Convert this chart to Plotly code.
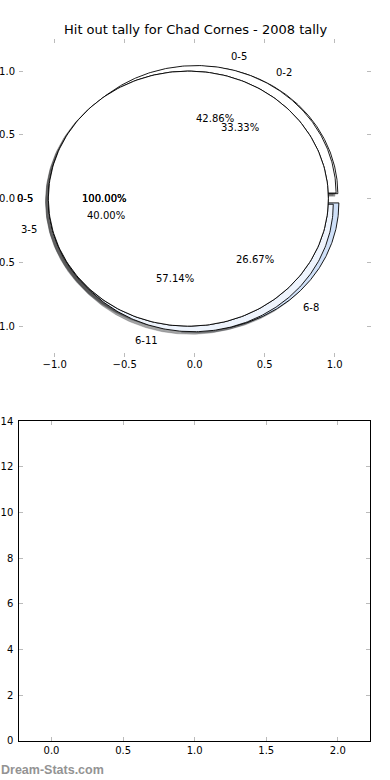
import numpy as np
import plotly.graph_objects as go

# ---------------- data ----------------
title_text = "Hit out tally for Chad Cornes - 2008 tally"
watermark = "Dream-Stats.com"

pieB_labels = ["0-2", "3-5", "6-8"]
pieB_values = [5, 6, 4]
pieA_labels = ["0-5", "6-11"]
pieA_values = [6, 8]
pieC_labels = ["0-5"]
pieC_values = [14]

pieB_colors = ["#ffffff", "#e9f1fc", "#cfe0f8"]
pieA_colors = ["#ffffff", "#eef4fd"]
pieC_colors = ["#ffffff"]

explode = 0.045

x_ticks_top = [-1.0, -0.5, 0.0, 0.5, 1.0]
y_ticks_top = [-1.0, -0.5, 0.0, 0.5, 1.0]
x_ticks_bottom = [0.0, 0.5, 1.0, 1.5, 2.0]
y_ticks_bottom = [0, 2, 4, 6, 8, 10, 12, 14]
bar_positions = [0, 1, 2]
bar_values = [0, 0, 0]

# draw order: B, A, C (C twice)
pies = [
    (pieB_labels, pieB_values, pieB_colors),
    (pieA_labels, pieA_values, pieA_colors),
    (pieC_labels, pieC_values, pieC_colors),
    (pieC_labels, pieC_values, pieC_colors),
]

W, H = 390, 780
FONT = "DejaVu Sans"


def wedge_geometry(values):
    total = float(sum(values))
    out = []
    t1 = 0.0
    for v in values:
        frac = v / total
        t2 = t1 + 360.0 * frac
        mid = np.deg2rad((t1 + t2) / 2.0)
        cx, cy = explode * np.cos(mid), explode * np.sin(mid)
        th = np.deg2rad(np.linspace(t1, t2, 240))
        ax_ = cx + np.cos(th)
        ay_ = cy + np.sin(th)
        if frac > 0.999999:
            xs, ys = list(ax_), list(ay_)
        else:
            xs = [cx] + list(ax_) + [cx]
            ys = [cy] + list(ay_) + [cy]
        out.append(dict(xs=xs, ys=ys, cx=cx, cy=cy, mid=mid, frac=frac))
        t1 = t2
    return out


def darker(hexcol):
    h = hexcol.lstrip("#")
    r, g, b = int(h[0:2], 16), int(h[2:4], 16), int(h[4:6], 16)
    return "rgba(%d,%d,%d,0.5)" % (r * 0.3, g * 0.3, b * 0.3)


fig = go.Figure()

geoms = [wedge_geometry(v) for (_, v, _) in pies]

# shadows first
for (labels, values, colors), geo in zip(pies, geoms):
    for g, col in zip(geo, colors):
        fig.add_trace(go.Scatter(
            x=[xx - 0.02 for xx in g["xs"]], y=[yy - 0.02 for yy in g["ys"]],
            mode="lines", fill="toself", fillcolor=darker(col),
            line=dict(color=darker(col), width=0.5),
            hoverinfo="skip", showlegend=False, xaxis="x", yaxis="y"))

# wedges
for (labels, values, colors), geo in zip(pies, geoms):
    for g, col in zip(geo, colors):
        fig.add_trace(go.Scatter(
            x=g["xs"], y=g["ys"], mode="lines", fill="toself", fillcolor=col,
            line=dict(color="black", width=0.9),
            hoverinfo="skip", showlegend=False, xaxis="x", yaxis="y"))

annotations = []
for (labels, values, colors), geo in zip(pies, geoms):
    for g, lab in zip(geo, labels):
        lx = g["cx"] + 1.1 * np.cos(g["mid"])
        ly = g["cy"] + 1.1 * np.sin(g["mid"])
        annotations.append(dict(
            x=lx, y=ly, xref="x", yref="y", text=lab, showarrow=False, borderpad=0,
            xanchor="left" if lx > 0 else "right", yanchor="middle",
            font=dict(size=10, color="black", family=FONT)))
        px_ = g["cx"] + 0.6 * np.cos(g["mid"])
        py_ = g["cy"] + 0.6 * np.sin(g["mid"])
        annotations.append(dict(
            x=px_, y=py_, xref="x", yref="y", text="%.2f%%" % (100 * g["frac"]),
            showarrow=False, borderpad=0, xanchor="center", yanchor="middle",
            font=dict(size=10, color="black", family=FONT)))

# bottom (empty) bar chart
fig.add_trace(go.Bar(x=bar_positions, y=bar_values, width=0.45,
                     marker=dict(color="#4f81bd", line=dict(width=0)),
                     hoverinfo="skip", showlegend=False, xaxis="x2", yaxis="y2"))

annotations.append(dict(
    x=0.5, y=1 - 30 / H, xref="paper", yref="paper", text=title_text,
    showarrow=False, xanchor="center", yanchor="middle",
    font=dict(size=13, color="black", family=FONT)))
annotations.append(dict(
    x=0.0, y=1 - 770 / H, xref="paper", yref="paper", text="<b>%s</b>" % watermark,
    showarrow=False, xanchor="left", yanchor="middle", borderpad=0,
    font=dict(size=12.5, color="#939393", family="Liberation Sans")))

tick_common = dict(ticks="inside", ticklen=4, tickwidth=1, tickcolor="#bbbbbb",
                   showgrid=False, zeroline=False, mirror="ticks", automargin=False,
                   tickfont=dict(size=10, color="black", family=FONT))

fig.update_layout(
    width=W, height=H, autosize=False,
    margin=dict(l=0, r=0, t=0, b=0, pad=0, autoexpand=False),
    paper_bgcolor="white", plot_bgcolor="rgba(0,0,0,0)",
    font=dict(family=FONT, size=10, color="black"),
    annotations=annotations,
    xaxis=dict(domain=[19 / W, 371 / W], range=[-1.2548, 1.2595], anchor="y",
               tickvals=x_ticks_top, tickformat=".1f", showline=False, **tick_common),
    yaxis=dict(domain=[1 - 357 / H, 1 - 38.5 / H], range=[-1.242, 1.256], anchor="x",
               tickvals=y_ticks_top, tickformat=".1f", showline=False,
               ticklabelstandoff=3, **tick_common),
    xaxis2=dict(domain=[19.3 / W, 370 / W], range=[-0.225, 2.225], anchor="y2",
                tickvals=x_ticks_bottom, tickformat=".1f", showline=True,
                linecolor="black", linewidth=1, **tick_common),
    yaxis2=dict(domain=[1 - 740.7 / H, 1 - 421.3 / H], range=[0, 14], anchor="x2",
                tickvals=y_ticks_bottom, showline=True,
                linecolor="black", linewidth=1, ticklabelstandoff=3, **tick_common),
)

fig.write_html(
    "out.html",
    config={"displayModeBar": False, "responsive": False},
    post_script=(
        "document.documentElement.style.margin='0px';"
        "document.body.style.margin='0px';document.body.style.padding='0px';"
        "document.documentElement.style.overflow='hidden';document.body.style.overflow='hidden';"
        "var d=document.getElementById('{plot_id}');"
        "d.style.position='fixed';d.style.left='0px';d.style.top='0px';"
    ),
)
